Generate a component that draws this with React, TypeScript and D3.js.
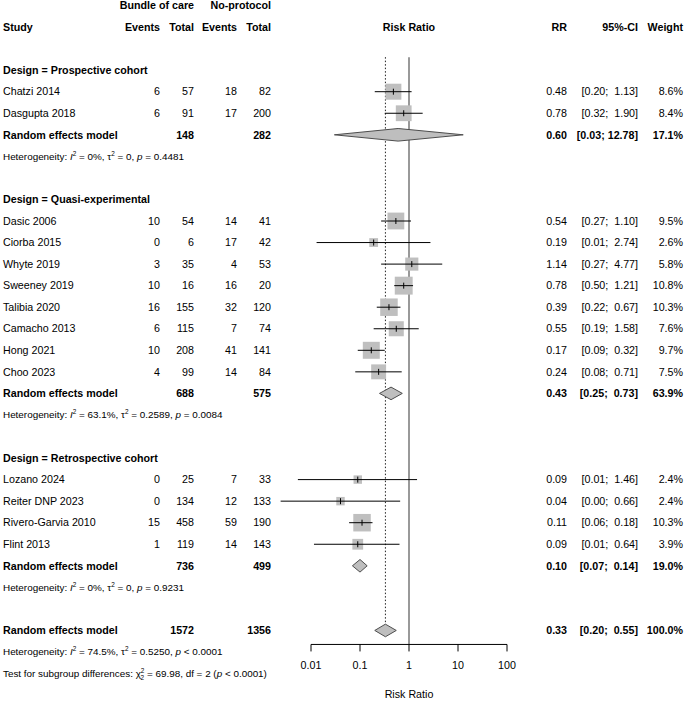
import * as d3 from 'd3';

// Study level data
const studies = [
  'Chatzi 2014', 'Dasgupta 2018',
  'Dasic 2006', 'Ciorba 2015', 'Whyte 2019', 'Sweeney 2019', 'Talibia 2020', 'Camacho 2013', 'Hong 2021', 'Choo 2023',
  'Lozano 2024', 'Reiter DNP 2023', 'Rivero-Garvia 2010', 'Flint 2013',
];
const studyGroup = [0, 0, 1, 1, 1, 1, 1, 1, 1, 1, 2, 2, 2, 2];
const bundleEvents = [6, 6, 10, 0, 3, 10, 16, 6, 10, 4, 0, 0, 15, 1];
const bundleTotal = [57, 91, 54, 6, 35, 16, 155, 115, 208, 99, 25, 134, 458, 119];
const noEvents = [18, 17, 14, 17, 4, 16, 32, 7, 41, 14, 7, 12, 59, 14];
const noTotal = [82, 200, 41, 42, 53, 20, 120, 74, 141, 84, 33, 133, 190, 143];
const rr = [0.48, 0.78, 0.54, 0.19, 1.14, 0.78, 0.39, 0.55, 0.17, 0.24, 0.09, 0.04, 0.11, 0.09];
const ciLow = [0.2, 0.32, 0.27, 0.013, 0.27, 0.5, 0.22, 0.19, 0.09, 0.08, 0.0054, 0.0024, 0.06, 0.0115];
const ciHigh = [1.13, 1.9, 1.1, 2.74, 4.77, 1.21, 0.67, 1.58, 0.32, 0.71, 1.46, 0.66, 0.18, 0.64];
const weight = [8.6, 8.4, 9.5, 2.6, 5.8, 10.8, 10.3, 7.6, 9.7, 7.5, 2.4, 2.4, 10.3, 3.9];

// Subgroup summaries
const groupNames = ['Prospective cohort', 'Quasi-experimental', 'Retrospective cohort'];
const groupRR = [0.6, 0.43, 0.1];
const groupLow = [0.03, 0.25, 0.07];
const groupHigh = [12.78, 0.73, 0.14];
const groupWeight = [17.1, 63.9, 19.0];
const groupI2 = ['0%', '63.1%', '0%'];
const groupTau2 = ['0', '0.2589', '0'];
const groupP = ['= 0.4481', '= 0.0084', '= 0.9231'];

// Overall
const overallRR = 0.33;
const overallLow = 0.2;
const overallHigh = 0.55;
const overallWeight = 100.0;
const overallI2 = '74.5%';
const overallTau2 = '0.5250';
const overallP = '< 0.0001';
const subgroupChi2 = '69.98';
const subgroupDf = 2;
const subgroupP = '< 0.0001';

const tickValues = [0.01, 0.1, 1, 10, 100];

const FONT = '"Liberation Sans", Arial, Helvetica, sans-serif';
const FS = 10.7;
const SMALL = 9.9;

const W = 685;
const H = 701;

const x = d3.scaleLog().domain([0.01, 100]).range([311, 507]);
const rowY = d3.scaleLinear().domain([0, 31]).range([5.5, 5.5 + 31 * 21.55]);

const col = {
  study: 3,
  bEv: 160,
  bTot: 194,
  nEv: 237,
  nTot: 271,
  rr: 567,
  ci: 638,
  w: 683,
};

const fmtCI = (lo: number, hi: number) => {
  const h = hi.toFixed(2);
  return `[${lo.toFixed(2)}; ${h.length < 5 ? ' ' : ''}${h}]`;
};

const square = (w: number) => 5.45 * Math.sqrt(w);

type Row =
  | { kind: 'design'; y: number; g: number }
  | { kind: 'study'; y: number; i: number }
  | { kind: 'group'; y: number; g: number }
  | { kind: 'het'; y: number; g: number };

function buildRows() {
  const rows: Row[] = [];
  let r = 3;
  groupNames.forEach((_, g) => {
    rows.push({ kind: 'design', y: rowY(r++), g });
    studies.forEach((_, i) => {
      if (studyGroup[i] === g) rows.push({ kind: 'study', y: rowY(r++), i });
    });
    rows.push({ kind: 'group', y: rowY(r++), g });
    rows.push({ kind: 'het', y: rowY(r++), g });
    r++;
  });
  return { rows, overallRow: r };
}

function Txt(props: {
  x: number;
  y: number;
  anchor?: 'start' | 'middle' | 'end';
  bold?: boolean;
  size?: number;
  children: any;
}) {
  return (
    <text
      x={props.x}
      y={props.y}
      dy="0.35em"
      textAnchor={props.anchor ?? 'start'}
      fontWeight={props.bold ? 'bold' : 'normal'}
      fontSize={props.size ?? FS}
      style={{ whiteSpace: 'pre' }}
    >
      {props.children}
    </text>
  );
}

function Het({ y, i2, tau2, p }: { y: number; i2: string; tau2: string; p: string }) {
  return (
    <text x={col.study} y={y} dy="0.35em" fontSize={SMALL} style={{ whiteSpace: 'pre' }}>
      <tspan>Heterogeneity: </tspan>
      <tspan fontStyle="italic">I</tspan>
      <tspan fontSize={SMALL * 0.65} dy={-4}>2</tspan>
      <tspan dy={4}>{` = ${i2}, τ`}</tspan>
      <tspan fontSize={SMALL * 0.65} dy={-4}>2</tspan>
      <tspan dy={4}>{` = ${tau2}, `}</tspan>
      <tspan fontStyle="italic">p</tspan>
      <tspan>{` ${p}`}</tspan>
    </text>
  );
}

function Diamond({ y, est, lo, hi }: { y: number; est: number; lo: number; hi: number }) {
  const h = 6.3;
  const pts = [
    [x(lo), y],
    [x(est), y - h],
    [x(hi), y],
    [x(est), y + h],
  ];
  return <polygon points={pts.map((p) => p.join(',')).join(' ')} fill="#bebebe" stroke="#4d4d4d" strokeWidth={1} />;
}

export default function App() {
  const { rows, overallRow } = buildRows();
  const yOverall = rowY(overallRow);
  const axisY = yOverall + 14;
  const top = rowY(3) - 13;

  return (
    <svg
      width={W}
      height={H}
      style={{ position: 'absolute', left: 0, top: 0, background: '#fff' }}
      fontFamily={FONT}
      fill="#000"
    >
      {/* column headers */}
      <Txt x={col.bTot} y={rowY(0)} anchor="end" bold>Bundle of care</Txt>
      <Txt x={col.nTot} y={rowY(0)} anchor="end" bold>No-protocol</Txt>
      <Txt x={col.study} y={rowY(1)} bold>Study</Txt>
      <Txt x={col.bEv} y={rowY(1)} anchor="end" bold>Events</Txt>
      <Txt x={col.bTot} y={rowY(1)} anchor="end" bold>Total</Txt>
      <Txt x={col.nEv} y={rowY(1)} anchor="end" bold>Events</Txt>
      <Txt x={col.nTot} y={rowY(1)} anchor="end" bold>Total</Txt>
      <Txt x={x(1)} y={rowY(1)} anchor="middle" bold>Risk Ratio</Txt>
      <Txt x={col.rr} y={rowY(1)} anchor="end" bold>RR</Txt>
      <Txt x={col.ci} y={rowY(1)} anchor="end" bold>95%-CI</Txt>
      <Txt x={col.w} y={rowY(1)} anchor="end" bold>Weight</Txt>

      {/* reference lines */}
      <line x1={x(1)} x2={x(1)} y1={top} y2={axisY} stroke="#555" strokeWidth={1.2} />
      <line
        x1={x(overallRR)}
        x2={x(overallRR)}
        y1={top}
        y2={yOverall - 6}
        stroke="#222"
        strokeWidth={1}
        strokeDasharray="1.5,2"
      />

      {rows.map((row, k) => {
        if (row.kind === 'design') {
          return (
            <Txt key={k} x={col.study} y={row.y} bold>
              {`Design = ${groupNames[row.g]}`}
            </Txt>
          );
        }
        if (row.kind === 'study') {
          const i = row.i;
          const s = square(weight[i]);
          const cx = x(rr[i]);
          return (
            <g key={k}>
              <Txt x={col.study} y={row.y}>{studies[i]}</Txt>
              <Txt x={col.bEv} y={row.y} anchor="end">{bundleEvents[i]}</Txt>
              <Txt x={col.bTot} y={row.y} anchor="end">{bundleTotal[i]}</Txt>
              <Txt x={col.nEv} y={row.y} anchor="end">{noEvents[i]}</Txt>
              <Txt x={col.nTot} y={row.y} anchor="end">{noTotal[i]}</Txt>
              <rect x={cx - s / 2} y={row.y - s / 2} width={s} height={s} fill="#bfbfbf" />
              <line x1={x(ciLow[i])} x2={x(ciHigh[i])} y1={row.y} y2={row.y} stroke="#000" strokeWidth={1} />
              <line x1={cx} x2={cx} y1={row.y - 3} y2={row.y + 3} stroke="#000" strokeWidth={1} />
              <Txt x={col.rr} y={row.y} anchor="end">{rr[i].toFixed(2)}</Txt>
              <Txt x={col.ci} y={row.y} anchor="end">{fmtCI(ciLow[i], ciHigh[i])}</Txt>
              <Txt x={col.w} y={row.y} anchor="end">{`${weight[i].toFixed(1)}%`}</Txt>
            </g>
          );
        }
        if (row.kind === 'group') {
          const g = row.g;
          const idx = studies.map((_, i) => i).filter((i) => studyGroup[i] === g);
          return (
            <g key={k}>
              <Txt x={col.study} y={row.y} bold>Random effects model</Txt>
              <Txt x={col.bTot} y={row.y} anchor="end" bold>{d3.sum(idx, (i) => bundleTotal[i])}</Txt>
              <Txt x={col.nTot} y={row.y} anchor="end" bold>{d3.sum(idx, (i) => noTotal[i])}</Txt>
              <Diamond y={row.y} est={groupRR[g]} lo={groupLow[g]} hi={groupHigh[g]} />
              <Txt x={col.rr} y={row.y} anchor="end" bold>{groupRR[g].toFixed(2)}</Txt>
              <Txt x={col.ci} y={row.y} anchor="end" bold>{fmtCI(groupLow[g], groupHigh[g])}</Txt>
              <Txt x={col.w} y={row.y} anchor="end" bold>{`${groupWeight[g].toFixed(1)}%`}</Txt>
            </g>
          );
        }
        return <Het key={k} y={row.y} i2={groupI2[row.g]} tau2={groupTau2[row.g]} p={groupP[row.g]} />;
      })}

      {/* overall pooled estimate */}
      <Txt x={col.study} y={yOverall} bold>Random effects model</Txt>
      <Txt x={col.bTot} y={yOverall} anchor="end" bold>{d3.sum(bundleTotal)}</Txt>
      <Txt x={col.nTot} y={yOverall} anchor="end" bold>{d3.sum(noTotal)}</Txt>
      <Diamond y={yOverall} est={overallRR} lo={overallLow} hi={overallHigh} />
      <Txt x={col.rr} y={yOverall} anchor="end" bold>{overallRR.toFixed(2)}</Txt>
      <Txt x={col.ci} y={yOverall} anchor="end" bold>{fmtCI(overallLow, overallHigh)}</Txt>
      <Txt x={col.w} y={yOverall} anchor="end" bold>{`${overallWeight.toFixed(1)}%`}</Txt>
      <Het y={rowY(overallRow + 1)} i2={overallI2} tau2={overallTau2} p={overallP} />
      <text x={col.study} y={rowY(overallRow + 2)} dy="0.35em" fontSize={SMALL} style={{ whiteSpace: 'pre' }}>
        <tspan>Test for subgroup differences: χ</tspan>
        <tspan fontSize={SMALL * 0.65} dy={-4}>2</tspan>
        <tspan fontSize={SMALL * 0.65} dx={-3.8} dy={7}>2</tspan>
        <tspan dy={-3}>{` = ${subgroupChi2}, df = ${subgroupDf} (`}</tspan>
        <tspan fontStyle="italic">p</tspan>
        <tspan>{` ${subgroupP})`}</tspan>
      </text>

      {/* x axis */}
      <line x1={x(0.01)} x2={x(100)} y1={axisY} y2={axisY} stroke="#000" strokeWidth={1} />
      {tickValues.map((t) => (
        <g key={t}>
          <line x1={x(t)} x2={x(t)} y1={axisY} y2={axisY + 7} stroke="#000" strokeWidth={1} />
          <Txt x={x(t)} y={axisY + 21} anchor="middle">{String(t)}</Txt>
        </g>
      ))}
      <Txt x={x(1)} y={axisY + 50} anchor="middle">Risk Ratio</Txt>
    </svg>
  );
}
